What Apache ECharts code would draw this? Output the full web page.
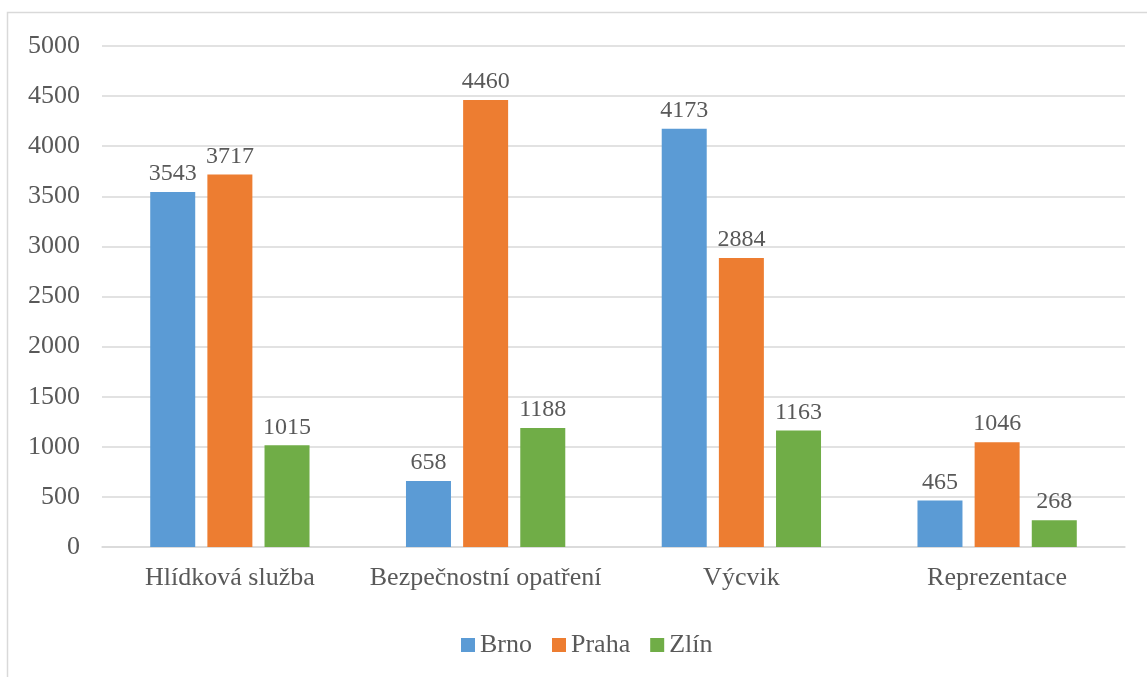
<!DOCTYPE html>
<html>
<head>
<meta charset="utf-8">
<script src="https://cdn.jsdelivr.net/npm/echarts@6/dist/echarts.min.js"></script>
<style>
html,body{margin:0;padding:0;background:#fff;}
#main{width:1147px;height:677px;}
</style>
</head>
<body>
<div id="main"></div>
<script>
const categories = ['Hlídková služba', 'Bezpečnostní opatření', 'Výcvik', 'Reprezentace'];
const brno = [3543, 658, 4173, 465];
const praha = [3717, 4460, 2884, 1046];
const zlin = [1015, 1188, 1163, 268];
const seriesNames = ['Brno', 'Praha', 'Zlín'];
const yTicks = { min: 0, max: 5000, interval: 500 };

const FONT = '"Liberation Serif", "Times New Roman", serif';
const TXT = '#595959';
const colors = ['#5B9BD5', '#ED7D31', '#70AD47'];

const chart = echarts.init(document.getElementById('main'));
const mk = (name, data, color) => ({
  name, type: 'bar', data,
  barWidth: 45, barGap: '27%',
  itemStyle: { color },
  label: { show: true, position: 'top', distance: 6, color: TXT, fontFamily: FONT, fontSize: 24 }
});
chart.setOption({
  animation: false,
  graphic: [{
    type: 'rect', shape: { x: 7.5, y: 12.5, width: 1300, height: 800 },
    style: { fill: 'none', stroke: '#d9d9d9', lineWidth: 1.5 }, silent: true
  }],
  grid: { left: 102, right: 22, top: 46, bottom: 130 },
  legend: {
    left: 456, top: 627, itemWidth: 14, itemHeight: 14, itemGap: 20,
    icon: 'rect',
    textStyle: { color: TXT, fontFamily: FONT, fontSize: 26 },
    data: seriesNames
  },
  xAxis: {
    type: 'category', data: categories,
    axisLine: { lineStyle: { color: '#d9d9d9', width: 1.5 } },
    axisTick: { show: false },
    axisLabel: { color: TXT, fontFamily: FONT, fontSize: 26, margin: 18, interval: 0 }
  },
  yAxis: {
    type: 'value', min: yTicks.min, max: yTicks.max, interval: yTicks.interval,
    axisLine: { show: false }, axisTick: { show: false },
    splitLine: { lineStyle: { color: '#d9d9d9', width: 1.5 } },
    axisLabel: { color: TXT, fontFamily: FONT, fontSize: 26, margin: 22, formatter: v => String(v) }
  },
  series: [mk(seriesNames[0], brno, colors[0]), mk(seriesNames[1], praha, colors[1]), mk(seriesNames[2], zlin, colors[2])]
});
</script>
</body>
</html>
